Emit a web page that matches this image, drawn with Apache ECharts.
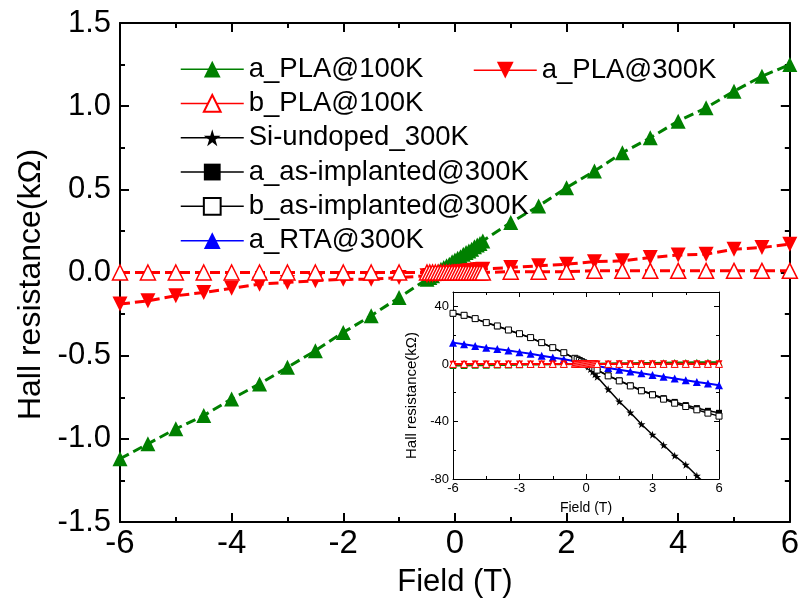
<!DOCTYPE html>
<html>
<head>
<meta charset="utf-8">
<script src="https://cdn.jsdelivr.net/npm/echarts@6/dist/echarts.min.js"></script>
<style>html,body{margin:0;padding:0;background:#fff}#c{width:802px;height:603px}</style>
</head>
<body>
<div id="c"></div>
<script>
// ---------- data ----------
const fieldMain = [-6,-5.5,-5,-4.5,-4,-3.5,-3,-2.5,-2,-1.5,-1,
  -0.5,-0.45,-0.4,-0.35,-0.3,-0.25,-0.2,-0.15,-0.1,-0.05,0,0.05,0.1,0.15,0.2,0.25,0.3,0.35,0.4,0.45,0.5,
  1,1.5,2,2.5,3,3.5,4,4.5,5,5.5,6];
const aPLA100 = [-1.12,-1.03,-0.94,-0.86,-0.76,-0.67,-0.57,-0.47,-0.36,-0.26,-0.15,
  -0.04,-0.03,-0.02,-0.005,0.005,0.02,0.03,0.04,0.05,0.065,0.075,0.085,0.095,0.11,0.12,0.13,0.14,0.155,0.165,0.175,0.19,
  0.30,0.40,0.51,0.61,0.72,0.81,0.91,0.99,1.09,1.18,1.25];
const aPLA300 = [-0.19,-0.17,-0.14,-0.12,-0.095,-0.07,-0.06,-0.05,-0.04,-0.04,-0.03,
  -0.02,-0.018,-0.016,-0.014,-0.012,-0.01,-0.008,-0.006,-0.004,-0.002,0,0.002,0.004,0.006,0.008,0.01,0.012,0.014,0.016,0.018,0.02,
  0.03,0.04,0.05,0.065,0.07,0.09,0.105,0.11,0.14,0.15,0.17];
const bPLA100 = [0,0,0,0,0,0,0,0,0,0,0,
  0,0,0,0,0,0,0,0,0,0,0,0,0,0,0,0,0,0,0,0,0,
  0.005,0.005,0.005,0.01,0.01,0.01,0.01,0.01,0.01,0.01,0.01];

const fieldInset = [-6,-5.5,-5,-4.5,-4,-3.5,-3,-2.5,-2,-1.5,-1,-0.5,
  -0.4,-0.3,-0.2,-0.1,0,0.1,0.2,0.3,0.4,
  0.5,1,1.5,2,2.5,3,3.5,4,4.5,5,5.5,6];
const bAsImpl = [35.2,33.8,31.5,28.7,26.4,23.6,21.0,18.3,14.8,11.3,7.8,3.9,
  3.2,2.4,1.6,0.8,0,-0.8,-1.6,-2.4,-3.2,
  -4.3,-8.3,-11.8,-15.3,-18.7,-21.5,-24.5,-27.3,-29.6,-31.9,-34.2,-36.3];
const aAsImpl = [35.0,33.6,31.3,28.6,26.2,23.5,20.8,18.1,14.7,11.2,7.7,3.8,
  3.1,2.3,1.5,0.7,0,-0.7,-1.5,-2.3,-3.1,
  -4.2,-8.1,-11.5,-14.9,-18.2,-21.0,-23.8,-26.4,-28.6,-30.7,-32.6,-34.0];
const fieldSi = [0,0.1,0.2,0.3,0.4,0.5,1,1.5,2,2.5,3,3.5,4,4.5,5,5.5];
const siUndoped = [0,-1.8,-3.6,-5.4,-7.2,-9.0,-17.6,-26.1,-33.8,-41.9,-49.2,-56.4,-63.8,-70.1,-77.7,-85];
const fieldRTA = [-6,-5.5,-5,-4.5,-4,-3.5,-3,-2.5,-2,-1.5,-1,-0.5,0,0.5,1,1.5,2,2.5,3,3.5,4,4.5,5,5.5,6];
const aRTA = [14.8,13.7,12.5,11.3,10.3,9.3,8.2,7.0,5.7,4.5,3.3,1.8,0.2,-1.5,-2.8,-4.1,-5.3,-6.5,-7.7,-8.9,-10.1,-11.3,-12.5,-13.6,-14.8];

const mainXTicks = {min:-6, max:6, interval:2};
const mainYTicks = {min:-1.5, max:1.5, interval:0.5};
const insetXTicks = {min:-6, max:6, interval:3};
const insetYTicks = {min:-80, max:50, interval:40};

// ---------- helpers ----------
const zip = (xs, ys) => xs.map((x, i) => [x, ys[i]]);
const FONT = "'Liberation Sans', Arial, sans-serif";
const STAR = 'path://M50,0 L61,35 L98,35 L68,57 L79,91 L50,70 L21,91 L32,57 L2,35 L39,35 Z';
const GREEN = '#008000', RED = '#ff0000', BLUE = '#0000ff', BLACK = '#000000';

function axis(o, pos, labels, lw, fs, margin, tickLen, minorLen, minorSplit) {
  return Object.assign({
    type: 'value', position: pos, gridIndex: o.gridIndex,
    min: o.min, max: o.max, interval: o.interval,
    axisLine: {show: true, onZero: false, lineStyle: {color: '#000', width: lw}},
    axisTick: {show: true, inside: true, length: tickLen, lineStyle: {color: '#000', width: lw}},
    minorTick: {show: true, splitNumber: minorSplit, length: minorLen, lineStyle: {color: '#000', width: lw}},
    splitLine: {show: false},
    axisLabel: {show: labels, color: '#000', fontFamily: FONT, fontSize: fs, margin: margin}
  }, o.extra || {});
}

const chart = echarts.init(document.getElementById('c'), null, {renderer: 'canvas'});

const xAxes = [
  axis(Object.assign({gridIndex: 0, extra: {name: 'Field (T)', nameLocation: 'middle', nameGap: 45,
      nameTextStyle: {fontFamily: FONT, fontSize: 31, color: '#000'}}}, mainXTicks), 'bottom', true, 2, 33, 5, 9, 5, 2),
  axis(Object.assign({gridIndex: 0}, mainXTicks), 'top', false, 2, 33, 5, 9, 5, 2),
  axis(Object.assign({gridIndex: 1, extra: {name: 'Field (T)', nameLocation: 'middle', nameGap: 22,
      nameTextStyle: {fontFamily: FONT, fontSize: 14, color: '#000'}}}, insetXTicks), 'bottom', true, 1, 13, 3, 5, 3, 2),
  axis(Object.assign({gridIndex: 1}, insetXTicks), 'top', false, 1, 13, 3, 5, 3, 2)
];
xAxes[0].axisLabel.formatter = v => String(v);
xAxes[2].axisLabel.formatter = v => String(v);

const yAxes = [
  axis(Object.assign({gridIndex: 0, extra: {name: 'Hall resistance(kΩ)', nameLocation: 'middle', nameGap: 72,
      nameTextStyle: {fontFamily: FONT, fontSize: 32, color: '#000', padding: [0, 0, 0, -24]}}}, mainYTicks), 'left', true, 2, 31, 9, 9, 5, 2),
  axis(Object.assign({gridIndex: 0}, mainYTicks), 'right', false, 2, 31, 9, 9, 5, 2),
  axis(Object.assign({gridIndex: 1, extra: {name: 'Hall resistance(kΩ)', nameLocation: 'middle', nameGap: 34,
      nameTextStyle: {fontFamily: FONT, fontSize: 15, color: '#000', padding: [0, 0, 0, -20]}}}, insetYTicks), 'left', true, 1, 13, 4, 5, 3, 2),
  axis(Object.assign({gridIndex: 1}, insetYTicks), 'right', false, 1, 13, 4, 5, 3, 2)
];
yAxes[0].axisLabel.formatter = v => v.toFixed(1);
yAxes[2].axisLabel.showMaxLabel = false;
yAxes[2].axisLabel.formatter = v => String(v);

function mainSeries(name, ys, sym, rot, color, fill) {
  return {
    name, type: 'line', xAxisIndex: 0, yAxisIndex: 0, data: zip(fieldMain, ys),
    symbol: sym, symbolSize: 15, symbolRotate: rot, showSymbol: true,
    lineStyle: {color, width: 3, type: [10, 5]},
    itemStyle: {color: fill, borderColor: color, borderWidth: fill === '#fff' ? 1.5 : 0},
    emphasis: {disabled: true}, z: 3
  };
}
function insetSeries(name, xs, ys, sym, rot, color, fill, size, lw, z) {
  return {
    name, type: 'line', xAxisIndex: 2, yAxisIndex: 2, data: zip(xs, ys),
    symbol: sym, symbolSize: size, symbolRotate: rot, showSymbol: true, clip: true,
    lineStyle: {color, width: lw, type: 'solid'},
    itemStyle: {color: fill, borderColor: color, borderWidth: fill === '#fff' ? 1 : 0},
    emphasis: {disabled: true}, z: z
  };
}

const series = [
  mainSeries('a_PLA@100K', aPLA100, 'triangle', 0, GREEN, GREEN),
  mainSeries('a_PLA@300K', aPLA300, 'triangle', 180, RED, RED),
  mainSeries('b_PLA@100K', bPLA100, 'triangle', 0, RED, '#fff'),
  insetSeries('a_RTA@300K', fieldRTA, aRTA, 'triangle', 0, BLUE, BLUE, 8, 2, 5),
  insetSeries('Si-undoped_300K', fieldSi, siUndoped, STAR, 0, BLACK, BLACK, 8, 1.5, 5),
  insetSeries('a_as-implanted@300K', fieldInset, aAsImpl, 'rect', 0, BLACK, BLACK, 6, 1.5, 5),
  insetSeries('b_as-implanted@300K', fieldInset, bAsImpl, 'rect', 0, BLACK, '#fff', 6, 1.5, 6),
  insetSeries('a_PLA@100K', fieldMain, aPLA100, 'triangle', 0, GREEN, GREEN, 7, 2, 6),
  insetSeries('a_PLA@300K', fieldMain, aPLA300, 'triangle', 180, RED, RED, 7, 2, 7),
  insetSeries('b_PLA@100K', fieldMain, bPLA100, 'triangle', 0, RED, '#fff', 7, 2, 7)
];

const legendCommon = {
  orient: 'vertical', padding: 0, itemWidth: 63, itemHeight: 21, itemGap: 0, itemTextGap: 9,
  selectedMode: false,
  lineStyle: {type: 'solid', width: 1.5},
  textStyle: {fontFamily: FONT, fontSize: 27.5, color: '#000', lineHeight: 34.3}
};

chart.setOption({
  animation: false,
  backgroundColor: '#fff',
  grid: [
    {left: 120, right: 12, top: 23, bottom: 80, show: false},
    {left: 453, right: 83, top: 292, bottom: 124, show: true, backgroundColor: '#fff', borderWidth: 0}
  ],
  xAxis: xAxes,
  yAxis: yAxes,
  legend: [
    Object.assign({}, legendCommon, {left: 180, top: 52,
      data: ['a_PLA@100K','b_PLA@100K','Si-undoped_300K','a_as-implanted@300K','b_as-implanted@300K','a_RTA@300K']}),
    Object.assign({}, legendCommon, {left: 473, top: 53, data: ['a_PLA@300K']})
  ],
  series
});
</script>
</body>
</html>
